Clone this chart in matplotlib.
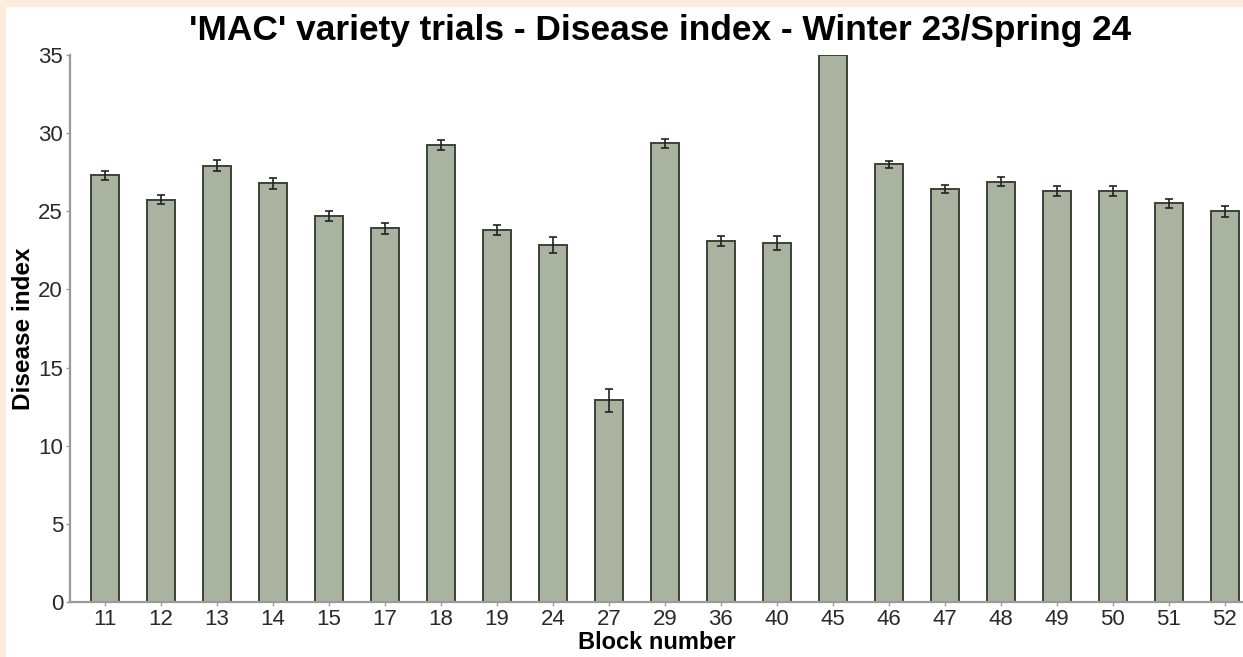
import numpy as np
from matplotlib import pyplot as plt
from matplotlib.patches import Rectangle

# data
blocks = ['11', '12', '13', '14', '15', '17', '18', '19', '24', '27', '29',
          '36', '40', '45', '46', '47', '48', '49', '50', '51', '52']
disease_index = [27.3, 25.75, 27.9, 26.8, 24.7, 23.9, 29.25, 23.8, 22.85, 12.9, 29.35,
                 23.1, 23.0, 35.0, 28.0, 26.4, 26.9, 26.3, 26.3, 25.5, 25.0]
std_err = [0.3, 0.3, 0.35, 0.35, 0.3, 0.35, 0.3, 0.3, 0.5, 0.75, 0.3,
           0.35, 0.45, 0.0, 0.2, 0.25, 0.3, 0.3, 0.3, 0.3, 0.35]

plt.rcParams['font.family'] = ['Liberation Sans', 'DejaVu Sans']

def main():
    fig = plt.figure(figsize=(12.43, 6.57), dpi=100, facecolor='#fdebdc')
    # white panel, leaving a peach band on top and left
    fig.patches.append(Rectangle((6/1243, 0), 1, 1 - 7/657, transform=fig.transFigure,
                                 facecolor='white', edgecolor='none', zorder=-5))
    ax = fig.add_axes([70/1243, 55/657, 1 - 70/1243, 547/657])
    ax.set_facecolor('white')

    x = np.arange(len(blocks))
    ax.bar(x, disease_index, width=0.5, color='#a9b3a0', edgecolor='#3c4239', linewidth=1.4, zorder=2)
    # error bars (none on block 45)
    err = np.array(std_err)
    m = err > 0
    ax.errorbar(x[m], np.array(disease_index)[m], yerr=err[m], fmt='none', ecolor='#222222',
                elinewidth=1.2, capsize=3, capthick=1.2, zorder=3)

    ax.set_xlim(-0.625, 20.33)
    ax.set_ylim(0, 35)
    ax.set_yticks(np.arange(0, 36, 5))
    ax.set_xticks(x)
    ax.set_xticklabels(blocks)

    for s in ['top', 'right']:
        ax.spines[s].set_visible(False)
    for s in ['left', 'bottom']:
        ax.spines[s].set_color('#9a9a9a')
        ax.spines[s].set_linewidth(1.6)
    ax.tick_params(axis='both', colors='#9a9a9a', length=3, width=1, labelsize=16,
                   labelcolor='#2a2a2a', pad=2)

    ax.set_ylabel('Disease index', fontsize=17.5, fontweight='bold', labelpad=2)
    ax.set_xlabel('Block number', fontsize=17, fontweight='bold', labelpad=1)
    fig.text(0.531, 0.953, "'MAC' variety trials - Disease index - Winter 23/Spring 24",
             ha='center', va='center', fontsize=25.4, fontweight='bold')

    fig.savefig('out.png', dpi=100, facecolor=fig.get_facecolor())

if __name__ == "__main__":
    main()
